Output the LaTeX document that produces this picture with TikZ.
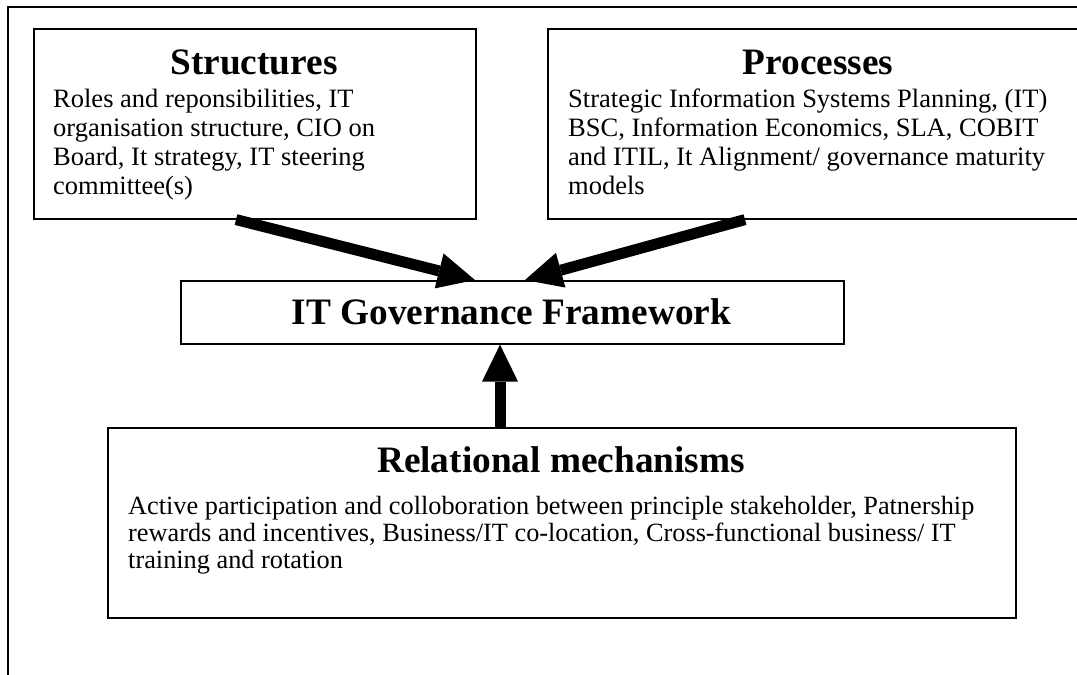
\documentclass[tikz,border=0pt]{standalone}
\usepackage{fontspec}
\setmainfont{Liberation Serif}
\usetikzlibrary{arrows.meta,calc}
\begin{document}
\begin{tikzpicture}[x=1pt,y=-1pt,
  box/.style={draw, line width=1.6pt, inner sep=0pt, anchor=north west},
  ttl/.style={font=\fontsize{37.3}{41}\selectfont\bfseries, inner sep=0pt, anchor=base},
  txt/.style={font=\fontsize{26.5}{29}\selectfont, inner sep=0pt, anchor=north west, align=left},
  rtxt/.style={font=\fontsize{26.3}{27}\selectfont, inner sep=0pt, anchor=north west, align=left},
  bigarrow/.style={line width=11pt, -{Triangle[width=36pt,length=37pt,line width=0pt]}}
]
\useasboundingbox (0,0) rectangle (1077,675);
\clip (0,0) rectangle (1077,675);
% outer frame (top and left edges)
\draw[line width=1.6pt] (1077,7) -- (8,7) -- (8,675);
% boxes
\node[box, minimum width=442pt, minimum height=190pt] (struct) at (33,28) {};
\node[box, minimum width=543pt, minimum height=190pt] (proc) at (547,28) {};
\node[box, minimum width=663pt, minimum height=63pt] (itg) at (180,280) {};
\node[box, minimum width=908pt, minimum height=190pt] (rel) at (107,427) {};
% texts
\node[ttl] (sT) at (254,74) {Structures};
\node[txt] (sB) at (53,86.7) {\strut Roles and reponsibilities, IT\\organisation structure, CIO on\\Board, It strategy, IT steering\\committee(s)};
\node[ttl] (pT) at (818,74) {Processes};
\node[txt] (pB) at (568,86.7) {\strut Strategic Information Systems Planning, (IT)\\BSC, Information Economics, SLA, COBIT\\and ITIL, It Alignment/ governance maturity\\models};
\node[ttl] (iT) at (511.5,324.5) {IT Governance Framework};
\node[ttl] (rT) at (561,472) {Relational mechanisms};
\node[rtxt] (rB) at (128,495.1) {\strut Active participation and colloboration between principle stakeholder, Patnership\\rewards and incentives, Business/IT co-location, Cross-functional business/ IT\\training and rotation};
% arrows
\draw[bigarrow] ($(struct.south west)+(203,0)$) -- ($(itg.north west)+(295,0)$);
\draw[bigarrow] ($(proc.south west)+(198,0)$) -- ($(itg.north west)+(345,0)$);
\draw[bigarrow] ($(rel.north west)+(393,0)$) -- ($(itg.south west)+(320,0)$);
\end{tikzpicture}
\end{document}
